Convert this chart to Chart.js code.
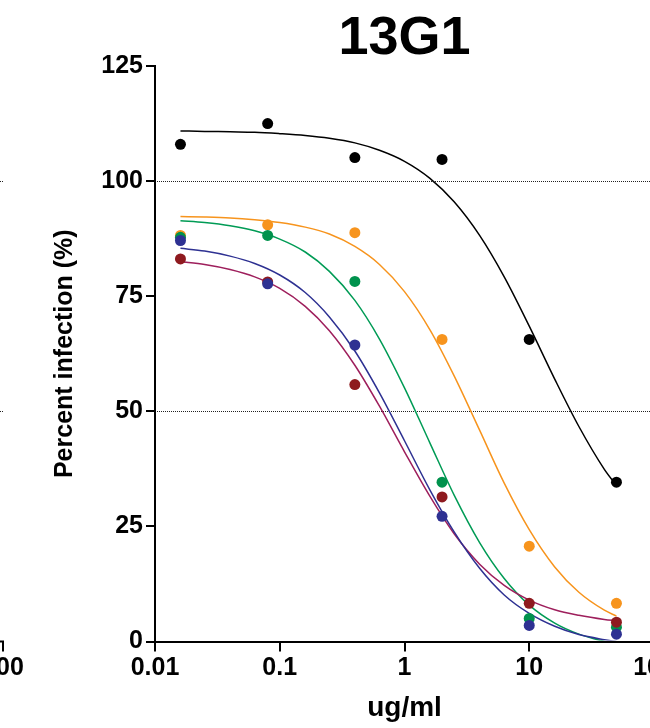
<!DOCTYPE html>
<html>
<head>
<meta charset="utf-8">
<script src="https://cdn.jsdelivr.net/npm/chart.js@4.4.1/dist/chart.umd.min.js"></script>
<style>
    html, body { margin: 0; padding: 0; background: #fff; overflow: hidden; }
    #wrap { width: 720px; height: 728px; }
</style>
</head>
<body>
<div id="wrap"><canvas id="myChart"></canvas></div>
<script>
// measured points (ug/ml vs percent infection)
var conc = [0.016, 0.08, 0.4, 2, 10, 50];
var blackPts  = [108.0, 112.5, 105.1, 104.7, 65.6, 34.6];
var orangePts = [88.2, 90.5, 88.8, 65.6, 20.7, 8.3];
var greenPts  = [87.8, 88.2, 78.2, 34.6, 5.0, 3.1];
var redPts    = [83.1, 78.1, 55.8, 31.4, 8.3, 4.2];
var bluePts   = [87.1, 77.7, 64.4, 27.2, 3.5, 1.6];

// fitted curves
var fitX      = [0.016, 0.025, 0.04, 0.063, 0.1, 0.16, 0.25, 0.4, 0.63, 1, 1.6, 2.5, 4, 6.3, 10, 16, 25, 40, 50];
var blackFit  = [110.9, 110.8, 110.7, 110.6, 110.3, 109.9, 109.3, 108.3, 106.7, 104.3, 100.6, 95.5, 88.2, 79.2, 68.5, 57.0, 46.7, 37.4, 33.9];
var orangeFit = [92.3, 92.2, 92.0, 91.6, 91.0, 90.0, 88.5, 85.8, 81.9, 76.0, 67.7, 57.7, 45.9, 34.4, 24.3, 16.2, 10.7, 6.8, 5.5];
var greenFit  = [91.4, 91.0, 90.3, 89.2, 87.4, 84.6, 80.4, 74.1, 65.7, 55.1, 43.1, 31.8, 21.5, 13.7, 7.9, 4.0, 1.6, 0.0, -0.6];
var blueFit   = [85.4, 84.8, 83.7, 82.1, 79.6, 75.8, 70.5, 63.1, 54.0, 43.6, 32.9, 23.8, 15.9, 10.1, 6.1, 3.3, 1.5, 0.4, 0.0];
var redFit    = [82.5, 81.9, 80.8, 79.2, 76.7, 72.8, 67.5, 60.0, 51.1, 41.2, 31.5, 23.4, 16.8, 12.2, 9.0, 6.9, 5.7, 4.8, 4.5];

var xTicks = [0.01, 0.1, 1, 10, 100];
var refLines = [100, 50];

var FONT = "'Liberation Sans', Arial, sans-serif";

function pairs(xs, ys) {
    return xs.map(function (x, i) { return { x: x, y: ys[i] }; });
}

function dots(label, ys, color) {
    return {
        label: label,
        data: pairs(conc, ys),
        showLine: false,
        pointRadius: 5.5,
        pointBackgroundColor: color,
        pointBorderWidth: 0,
        clip: false
    };
}

function fit(label, ys, color) {
    return {
        label: label,
        data: pairs(fitX, ys),
        showLine: true,
        borderColor: color,
        borderWidth: 1.5,
        pointRadius: 0,
        cubicInterpolationMode: 'monotone',
        clip: { left: 5, right: 5, top: 5, bottom: -1 }
    };
}

// dotted lines at 100 and 50, plus the edge of the neighbouring panel
var refLinePlugin = {
    id: 'refLines',
    beforeDatasetsDraw: function (chart) {
        var ctx = chart.ctx;
        var y = chart.scales.y;
        var area = chart.chartArea;
        ctx.save();
        ctx.strokeStyle = '#222';
        ctx.lineWidth = 1;
        ctx.setLineDash([1, 1]);
        refLines.forEach(function (v) {
            var py = Math.round(y.getPixelForValue(v)) + 0.5;
            ctx.beginPath();
            ctx.moveTo(area.left + 2, py);
            ctx.lineTo(chart.width, py);
            ctx.moveTo(0, py);
            ctx.lineTo(4, py);
            ctx.stroke();
        });
        ctx.setLineDash([]);
        ctx.strokeStyle = '#000';
        ctx.lineWidth = 2;
        ctx.beginPath();
        ctx.moveTo(0, area.bottom);
        ctx.lineTo(4, area.bottom);
        ctx.moveTo(3, area.bottom);
        ctx.lineTo(3, area.bottom + 10);
        ctx.stroke();
        ctx.fillStyle = '#000';
        ctx.font = 'bold 25px ' + FONT;
        ctx.textAlign = 'center';
        ctx.textBaseline = 'middle';
        ctx.fillText('100', 3, area.bottom + 27);
        ctx.restore();
    }
};

var ctx = document.getElementById("myChart").getContext('2d');
var myChart = new Chart(ctx, {
    type: 'scatter',
    data: {
        datasets: [
            dots('Blue', bluePts, '#2E3192'),
            dots('Red', redPts, '#8E1A1F'),
            dots('Green', greenPts, '#00924D'),
            dots('Orange', orangePts, '#F7941D'),
            dots('Black', blackPts, '#000000'),
            fit('Blue fit', blueFit, '#2E3192'),
            fit('Red fit', redFit, '#9E1F5C'),
            fit('Green fit', greenFit, '#009B55'),
            fit('Orange fit', orangeFit, '#F7941D'),
            fit('Black fit', blackFit, '#000000')
        ]
    },
    options: {
        responsive: true,
        maintainAspectRatio: false,
        animation: false,
        layout: {
            padding: { left: 0, right: 66, top: 0, bottom: 0 }
        },
        plugins: {
            legend: { display: false },
            tooltip: { enabled: false },
            title: {
                display: true,
                text: '13G1',
                color: '#000',
                fullSize: false,
                font: { family: FONT, size: 54, weight: 'bold', lineHeight: 1 },
                padding: { top: 12, bottom: 0 }
            }
        },
        scales: {
            x: {
                type: 'logarithmic',
                min: 0.01,
                max: 100,
                afterBuildTicks: function (scale) {
                    scale.ticks = xTicks.map(function (v) { return { value: v }; });
                },
                afterFit: function (scale) { scale.height = 86.5; },
                border: { display: true, color: '#000', width: 2 },
                grid: { drawOnChartArea: false, drawTicks: true, tickLength: 10, color: '#000', lineWidth: 2 },
                ticks: {
                    color: '#000',
                    padding: 2,
                    maxRotation: 0,
                    autoSkip: false,
                    font: { family: FONT, size: 25, weight: 'bold' },
                    callback: function (v) { return String(v); }
                },
                title: {
                    display: true,
                    text: 'ug/ml',
                    color: '#000',
                    font: { family: FONT, size: 28, weight: 'bold' },
                    padding: { top: 3, bottom: 3 }
                }
            },
            y: {
                min: 0,
                max: 125,
                afterFit: function (scale) { scale.width = 155; },
                border: { display: true, color: '#000', width: 2 },
                grid: { drawOnChartArea: false, drawTicks: true, tickLength: 9, color: '#000', lineWidth: 2 },
                ticks: {
                    stepSize: 25,
                    color: '#000',
                    padding: 3,
                    font: { family: FONT, size: 25, weight: 'bold' }
                },
                title: {
                    display: true,
                    text: 'Percent infection (%)',
                    color: '#000',
                    font: { family: FONT, size: 25, weight: 'bold' },
                    padding: { top: 50, bottom: 50 }
                }
            }
        }
    },
    plugins: [refLinePlugin]
});
</script>
</body>
</html>
